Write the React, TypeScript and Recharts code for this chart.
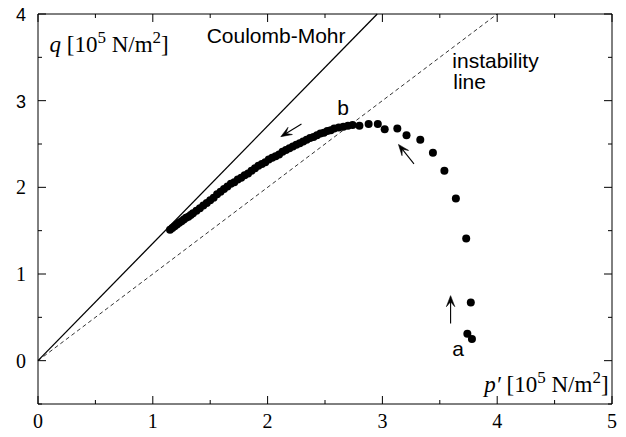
import React from 'react';
import { ScatterChart, Scatter, XAxis, YAxis, ReferenceLine, ReferenceDot } from 'recharts';

// measured path: p' (x) and q (y), units of 10^5 N/m^2
const pathP = [
  1.15, 1.17, 1.19, 1.21, 1.23, 1.25, 1.27, 1.29, 1.31, 1.33, 1.35, 1.38, 1.41, 1.44, 1.47, 1.50,
  1.53, 1.56, 1.59, 1.62, 1.65, 1.68, 1.71, 1.74, 1.77, 1.80, 1.83, 1.86, 1.89, 1.92, 1.95, 1.98,
  2.01, 2.04, 2.07, 2.10, 2.13, 2.16, 2.19, 2.22, 2.25, 2.28, 2.31, 2.34, 2.37, 2.40, 2.43, 2.46,
  2.49, 2.52, 2.55, 2.58, 2.62, 2.66, 2.70, 2.74,
  2.80, 2.88, 2.96, 3.02, 3.13, 3.21, 3.33, 3.44, 3.54, 3.64, 3.73, 3.77, 3.74, 3.78,
];
const pathQ = [
  1.51, 1.53, 1.55, 1.57, 1.59, 1.61, 1.63, 1.65, 1.66, 1.68, 1.70, 1.73, 1.76, 1.79, 1.82, 1.85,
  1.88, 1.92, 1.95, 1.98, 2.01, 2.04, 2.06, 2.09, 2.11, 2.14, 2.16, 2.19, 2.22, 2.25, 2.27, 2.29,
  2.32, 2.34, 2.36, 2.38, 2.41, 2.43, 2.45, 2.47, 2.49, 2.51, 2.53, 2.55, 2.57, 2.58, 2.60, 2.62,
  2.63, 2.65, 2.66, 2.68, 2.69, 2.70, 2.71, 2.72,
  2.71, 2.73, 2.73, 2.67, 2.68, 2.60, 2.55, 2.40, 2.19, 1.87, 1.41, 0.67, 0.31, 0.25,
];

const xTicks = [0, 0.5, 1, 1.5, 2, 2.5, 3, 3.5, 4, 4.5, 5];
const yTicks = [-0.5, 0, 0.5, 1, 1.5, 2, 2.5, 3, 3.5, 4];
const xDomain = [0, 5];
const yDomain = [-0.5, 4];

// reference lines through the origin: end points on the top frame
const coulombMohrEnd = { x: 2.955, y: 4 };
const instabilityEnd = { x: 4.0, y: 4 };

// arrows: [tail, head]
const arrows = [
  [{ x: 2.295, y: 2.73 }, { x: 2.115, y: 2.585 }],
  [{ x: 3.275, y: 2.27 }, { x: 3.14, y: 2.495 }],
  [{ x: 3.594, y: 0.43 }, { x: 3.594, y: 0.75 }],
];

// text annotations (data coords of left baseline)
const notes = [
  { x: 1.469, y: 3.664, text: 'Coulomb-Mohr' },
  { x: 3.609, y: 3.376, text: 'instability' },
  { x: 3.617, y: 3.134, text: 'line' },
  { x: 2.607, y: 2.835, text: 'b' },
  { x: 3.609, y: 0.054, text: 'a' },
];

const points = pathP.map((p, i) => ({ x: p, y: pathQ[i] }));

const SANS = 'Liberation Sans, Arial, Helvetica, sans-serif';
const SERIF = 'Liberation Serif, Times New Roman, serif';

const isMajor = (v: number) => Math.abs(v - Math.round(v)) < 1e-9;

const BottomTick = (props: any) => {
  const { x, y, payload } = props;
  const v = payload.value;
  const m = isMajor(v);
  return (
    <g>
      <line x1={x} x2={x} y1={y} y2={y - (m ? 8 : 4)} stroke="#000" strokeWidth={1} />
      {m && (
        <text x={x} y={y + 24} textAnchor="middle" fontFamily={SERIF} fontSize={20} fill="#000">
          {v}
        </text>
      )}
    </g>
  );
};

const TopTick = (props: any) => {
  const { x, y, payload } = props;
  const m = isMajor(payload.value);
  return <line x1={x} x2={x} y1={y} y2={y + (m ? 8 : 4)} stroke="#000" strokeWidth={1} />;
};

const LeftTick = (props: any) => {
  const { x, y, payload } = props;
  const v = payload.value;
  const m = isMajor(v);
  const sans = v >= 3;
  return (
    <g>
      <line x1={x} x2={x + (m ? 8 : 4)} y1={y} y2={y} stroke="#000" strokeWidth={1} />
      {m && v >= 0 && (
        <text
          x={x - 12}
          y={y + 7}
          textAnchor="end"
          fontFamily={sans ? SANS : SERIF}
          fontSize={sans ? 18 : 20}
          fill="#000"
        >
          {v}
        </text>
      )}
    </g>
  );
};

const RightTick = (props: any) => {
  const { x, y, payload } = props;
  const m = isMajor(payload.value);
  return <line x1={x} x2={x - (m ? 8 : 4)} y1={y} y2={y} stroke="#000" strokeWidth={1} />;
};

const Arrow = (props: any) => {
  const { x1, y1, x2, y2 } = props;
  const dx = x2 - x1;
  const dy = y2 - y1;
  const len = Math.sqrt(dx * dx + dy * dy) || 1;
  const ux = dx / len;
  const uy = dy / len;
  const nx = -uy;
  const ny = ux;
  const L = 11;
  const W = 4.2;
  const bx = x2 - ux * L;
  const by = y2 - uy * L;
  const kx = x2 - ux * L * 0.55;
  const ky = y2 - uy * L * 0.55;
  const pts = `${x2},${y2} ${bx + nx * W},${by + ny * W} ${kx},${ky} ${bx - nx * W},${by - ny * W}`;
  return (
    <g>
      <line x1={x1} y1={y1} x2={kx} y2={ky} stroke="#000" strokeWidth={1.1} />
      <polygon points={pts} fill="#000" stroke="#000" strokeWidth={0.6} strokeLinejoin="miter" />
    </g>
  );
};

const Dot = (props: any) => <circle cx={props.cx} cy={props.cy} r={4} fill="#000" />;

const noteShape = (text: string) => (props: any) => (
  <text x={props.cx} y={props.cy} fontFamily={SANS} fontSize={21} fill="#000">
    {text}
  </text>
);

const QLabel = (props: any) => (
  <text x={props.cx} y={props.cy} fontFamily={SERIF} fontSize={23} fill="#000">
    <tspan fontStyle="italic">q</tspan>
    <tspan> [10</tspan>
    <tspan dy={-9} fontSize={17}>5</tspan>
    <tspan dy={9}> N/m</tspan>
    <tspan dy={-9} fontSize={17}>2</tspan>
    <tspan dy={9}>]</tspan>
  </text>
);

const PLabel = (props: any) => (
  <text x={props.cx} y={props.cy} fontFamily={SERIF} fontSize={23} fill="#000" textAnchor="end">
    <tspan fontStyle="italic">p′</tspan>
    <tspan> [10</tspan>
    <tspan dy={-9} fontSize={17}>5</tspan>
    <tspan dy={9}> N/m</tspan>
    <tspan dy={-9} fontSize={17}>2</tspan>
    <tspan dy={9}>]</tspan>
  </text>
);

export default function App() {
  return (
    <div style={{ position: 'absolute', left: 0, top: 0, background: '#fff' }}>
      <ScatterChart width={626} height={437} margin={{ top: 0, right: 0, bottom: 0, left: 0 }}>
        <XAxis
          type="number"
          dataKey="x"
          xAxisId={0}
          domain={xDomain}
          ticks={xTicks}
          interval={0}
          allowDataOverflow
          height={33}
          tickSize={0}
          tickMargin={0}
          tickLine={false}
          axisLine={{ stroke: '#000', strokeWidth: 1 }}
          tick={<BottomTick />}
        />
        <XAxis
          type="number"
          dataKey="x"
          xAxisId="top"
          orientation="top"
          domain={xDomain}
          ticks={xTicks}
          interval={0}
          allowDataOverflow
          height={14}
          tickSize={0}
          tickMargin={0}
          tickLine={false}
          axisLine={{ stroke: '#000', strokeWidth: 1 }}
          tick={<TopTick />}
        />
        <YAxis
          type="number"
          dataKey="y"
          yAxisId={0}
          domain={yDomain}
          ticks={yTicks}
          interval={0}
          allowDataOverflow
          width={38}
          tickSize={0}
          tickMargin={0}
          tickLine={false}
          axisLine={{ stroke: '#000', strokeWidth: 1 }}
          tick={<LeftTick />}
        />
        <YAxis
          type="number"
          dataKey="y"
          yAxisId="right"
          orientation="right"
          domain={yDomain}
          ticks={yTicks}
          interval={0}
          allowDataOverflow
          width={14}
          tickSize={0}
          tickMargin={0}
          tickLine={false}
          axisLine={{ stroke: '#000', strokeWidth: 1 }}
          tick={<RightTick />}
        />
        <ReferenceLine
          segment={[{ x: 0, y: 0 }, instabilityEnd]}
          stroke="#000"
          strokeWidth={0.8}
          strokeDasharray="4 3"
        />
        <ReferenceLine segment={[{ x: 0, y: 0 }, coulombMohrEnd]} stroke="#000" strokeWidth={1.3} />
        <Scatter data={points} shape={<Dot />} isAnimationActive={false} />
        {arrows.map((a, i) => (
          <ReferenceLine key={`ar${i}`} segment={a} shape={(p: any) => <Arrow {...p} />} />
        ))}
        {notes.map((n, i) => (
          <ReferenceDot key={`n${i}`} x={n.x} y={n.y} r={0} shape={noteShape(n.text)} />
        ))}
        <ReferenceDot x={0.1} y={3.56} r={0} shape={(p: any) => <QLabel {...p} />} />
        <ReferenceDot x={4.97} y={-0.36} r={0} shape={(p: any) => <PLabel {...p} />} />
      </ScatterChart>
    </div>
  );
}
